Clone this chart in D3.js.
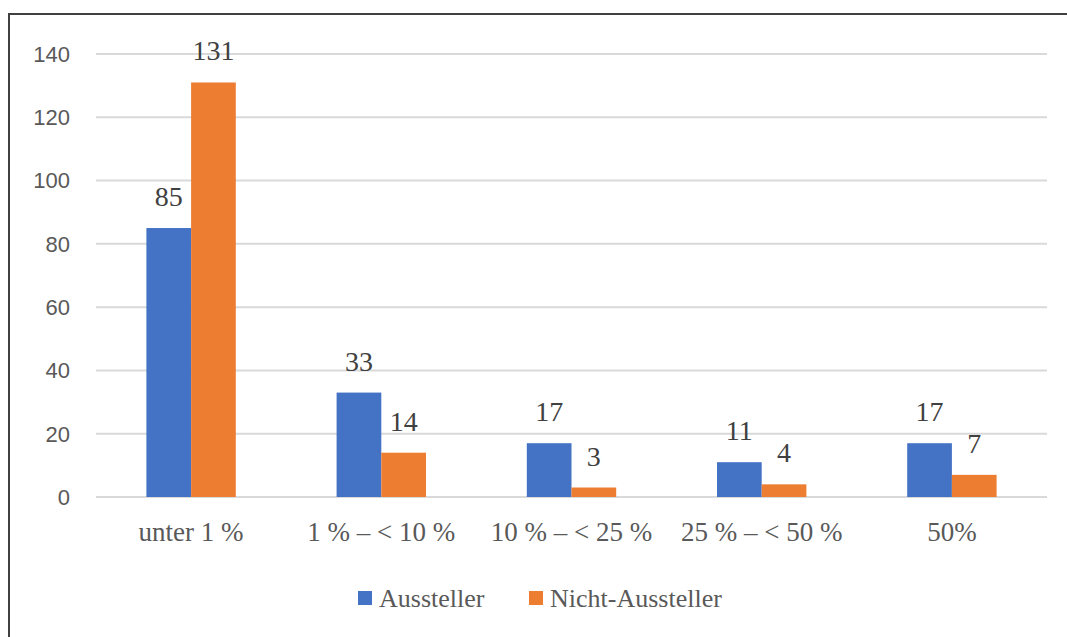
<!DOCTYPE html>
<html>
<head>
<meta charset="utf-8">
<script src="https://cdn.jsdelivr.net/npm/d3@7"></script>
<style>
  body { margin: 0; background: #fff; }
</style>
</head>
<body>
<svg id="chart"></svg>
<script>
const categories = ["unter 1 %", "1 % \u2013 < 10 %", "10 % \u2013 < 25 %", "25 % \u2013 < 50 %", "50%"];
const seriesNames = ["Aussteller", "Nicht-Aussteller"];
const aussteller = [85, 33, 17, 11, 17];
const nichtAussteller = [131, 14, 3, 4, 7];
const yTicks = [0, 20, 40, 60, 80, 100, 120, 140];
const colors = ["#4472C4", "#ED7D31"];

const W = 1067, H = 637;
const svg = d3.select("#chart").attr("width", W).attr("height", H);

// frame
svg.append("rect")
    .attr("x", 9).attr("y", 14)
    .attr("width", W + 20).attr("height", H + 20)
    .attr("fill", "none")
    .attr("stroke", "#404040")
    .attr("stroke-width", 2);

const x0 = d3.scaleBand().domain(categories).range([96, 1047])
    .paddingInner(0.53).paddingOuter(0.265);
const x1 = d3.scaleBand().domain(seriesNames).range([0, x0.bandwidth()]);
const y = d3.scaleLinear().domain([0, 140]).range([497, 54]);

// grid
svg.append("g").selectAll("line")
    .data(yTicks).enter().append("line")
    .attr("x1", 96).attr("x2", 1047)
    .attr("y1", d => y(d)).attr("y2", d => y(d))
    .attr("stroke", "#d9d9d9").attr("stroke-width", 2);

// y labels
svg.append("g").selectAll("text")
    .data(yTicks).enter().append("text")
    .text(d => d)
    .attr("x", 70).attr("y", d => y(d))
    .attr("dy", "0.36em")
    .attr("text-anchor", "end")
    .attr("font-family", "Liberation Sans, Arial, sans-serif")
    .attr("font-size", "22px")
    .attr("fill", "#595959");

const rows = categories.map((c, i) => ({cat: c, vals: [aussteller[i], nichtAussteller[i]]}));

const groups = svg.append("g").selectAll("g")
    .data(rows).enter().append("g")
    .attr("transform", d => `translate(${x0(d.cat)},0)`);

groups.selectAll("rect")
    .data(d => d.vals.map((v, j) => ({name: seriesNames[j], v: v, j: j})))
    .enter().append("rect")
    .attr("x", d => x1(d.name))
    .attr("y", d => y(d.v))
    .attr("width", x1.bandwidth())
    .attr("height", d => y(0) - y(d.v))
    .attr("fill", d => colors[d.j]);

groups.selectAll("text")
    .data(d => d.vals.map((v, j) => ({name: seriesNames[j], v: v, j: j})))
    .enter().append("text")
    .text(d => d.v)
    .attr("x", d => x1(d.name) + x1.bandwidth() / 2)
    .attr("y", d => y(d.v) - 22)
    .attr("text-anchor", "middle")
    .attr("font-family", "Liberation Serif, Times New Roman, serif")
    .attr("font-size", "28px")
    .attr("fill", "#404040");

// category labels
svg.append("g").selectAll("text")
    .data(categories).enter().append("text")
    .text(d => d)
    .attr("x", d => x0(d) + x0.bandwidth() / 2)
    .attr("y", 541)
    .attr("text-anchor", "middle")
    .attr("font-family", "Liberation Serif, Times New Roman, serif")
    .attr("font-size", "27px")
    .attr("fill", "#595959")
    .style("white-space", "pre");

// legend
const legX = [358, 529];
const leg = svg.append("g").selectAll("g")
    .data(seriesNames).enter().append("g")
    .attr("transform", (d, i) => `translate(${legX[i]},591)`);
leg.append("rect")
    .attr("width", 14).attr("height", 14)
    .attr("fill", (d, i) => colors[i]);
leg.append("text")
    .text(d => d)
    .attr("x", 21).attr("y", 7)
    .attr("dy", "0.35em")
    .attr("font-family", "Liberation Serif, Times New Roman, serif")
    .attr("font-size", "26px")
    .attr("fill", "#595959");
</script>
</body>
</html>
